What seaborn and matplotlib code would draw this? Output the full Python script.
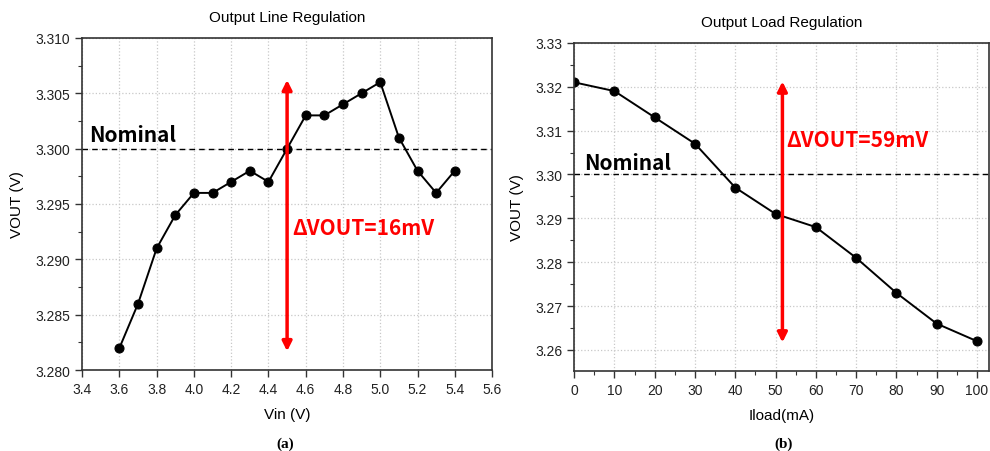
import numpy as np
import pandas as pd
import matplotlib.pyplot as plt
import seaborn as sns
from matplotlib.ticker import MultipleLocator, AutoMinorLocator

# data
vin = [3.6, 3.7, 3.8, 3.9, 4.0, 4.1, 4.2, 4.3, 4.4, 4.5,
       4.6, 4.7, 4.8, 4.9, 5.0, 5.1, 5.2, 5.3, 5.4]
vout_line = [3.282, 3.286, 3.291, 3.294, 3.296, 3.296, 3.297, 3.298, 3.297, 3.300,
             3.303, 3.303, 3.304, 3.305, 3.306, 3.301, 3.298, 3.296, 3.298]
iload = [0, 10, 20, 30, 40, 50, 60, 70, 80, 90, 100]
vout_load = [3.321, 3.319, 3.313, 3.307, 3.297, 3.291, 3.288, 3.281, 3.273, 3.266, 3.262]
nominal = 3.300

sns.set_style('ticks')
plt.rcParams['font.family'] = ['Liberation Sans', 'DejaVu Sans']
plt.rcParams['text.color'] = 'black'
plt.rcParams['axes.labelcolor'] = 'black'

df_line = pd.DataFrame({'Vin': vin, 'VOUT': vout_line})
df_load = pd.DataFrame({'Iload': iload, 'VOUT': vout_load})

fig = plt.figure(figsize=(9.9, 4.52), dpi=100)
ax1 = fig.add_axes([0.083, 0.179, 0.414, 0.735])
ax2 = fig.add_axes([0.580, 0.177, 0.419, 0.726])

bold_font = ['Noto Sans CJK KR', 'DejaVu Sans']


def style_axis(ax):
    ax.grid(True, which='major', color='#c8c8c8', linestyle=':', linewidth=0.9)
    ax.set_axisbelow(True)
    for s in ax.spines.values():
        s.set_color('#333333')
        s.set_linewidth(1.2)
    ax.tick_params(which='major', direction='out', length=5, width=1, labelsize=10,
                   color='#333333', labelcolor='#222222')
    ax.tick_params(which='minor', direction='out', length=3, width=0.8, color='#333333')


# (a) line regulation
sns.lineplot(data=df_line, x='Vin', y='VOUT', ax=ax1, color='black', marker='o',
             markersize=6.5, linewidth=1.4, markeredgecolor='black')
ax1.axhline(nominal, color='black', linestyle='--', linewidth=1, dashes=(4, 3))
ax1.set_xlim(3.4, 5.6)
ax1.set_ylim(3.280, 3.310)
ax1.xaxis.set_major_locator(MultipleLocator(0.2))
ax1.yaxis.set_major_locator(MultipleLocator(0.005))
ax1.yaxis.set_minor_locator(AutoMinorLocator(2))
ax1.yaxis.set_major_formatter(plt.FormatStrFormatter('%.3f'))
ax1.xaxis.set_major_formatter(plt.FormatStrFormatter('%.1f'))
style_axis(ax1)
ax1.set_title('Output Line Regulation', fontsize=11, pad=12)
ax1.set_xlabel('Vin (V)', fontsize=11, labelpad=8)
ax1.set_ylabel('VOUT (V)', fontsize=11, labelpad=8)
ax1.annotate('', xy=(4.5, 3.3062), xytext=(4.5, 3.2817),
             arrowprops=dict(arrowstyle='<|-|>', color='red', lw=2.5,
                             mutation_scale=14, shrinkA=0, shrinkB=0))
ax1.text(4.525, 3.2929, '\u0394VOUT=16mV', color='red', fontsize=15,
         fontweight='bold', va='center', ha='left', family=bold_font)
ax1.text(3.437, 3.3003, 'Nominal', fontsize=15, fontweight='bold', va='bottom',
         ha='left', family=bold_font)
fig.text(0.288, 0.01, '(a)', fontsize=11, fontweight='bold', family='Liberation Serif', ha='center')

# (b) load regulation
sns.lineplot(data=df_load, x='Iload', y='VOUT', ax=ax2, color='black', marker='o',
             markersize=6.5, linewidth=1.4, markeredgecolor='black')
ax2.axhline(nominal, color='black', linestyle='--', linewidth=1, dashes=(4, 3))
ax2.set_xlim(0, 103)
ax2.set_ylim(3.2552, 3.33)
ax2.xaxis.set_major_locator(MultipleLocator(10))
ax2.xaxis.set_minor_locator(AutoMinorLocator(2))
ax2.yaxis.set_major_locator(MultipleLocator(0.01))
ax2.yaxis.set_minor_locator(AutoMinorLocator(2))
ax2.yaxis.set_major_formatter(plt.FormatStrFormatter('%.2f'))
style_axis(ax2)
ax2.set_title('Output Load Regulation', fontsize=11, pad=12)
ax2.set_xlabel('Iload(mA)', fontsize=11, labelpad=8)
ax2.set_ylabel('VOUT (V)', fontsize=11, labelpad=8)
ax2.annotate('', xy=(51.7, 3.3212), xytext=(51.7, 3.2617),
             arrowprops=dict(arrowstyle='<|-|>', color='red', lw=2.5,
                             mutation_scale=14, shrinkA=0, shrinkB=0))
ax2.text(52.7, 3.3079, '\u0394VOUT=59mV', color='red', fontsize=15,
         fontweight='bold', va='center', ha='left', family=bold_font)
ax2.text(2.4, 3.3004, 'Nominal', fontsize=15, fontweight='bold', va='bottom',
         ha='left', family=bold_font)
fig.text(0.791, 0.01, '(b)', fontsize=11, fontweight='bold', family='Liberation Serif', ha='center')

fig.savefig('out.png', dpi=100)
